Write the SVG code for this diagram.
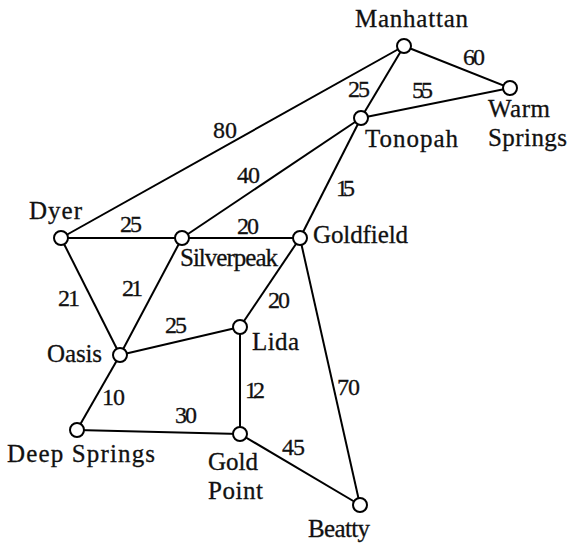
<svg xmlns="http://www.w3.org/2000/svg" width="568" height="545" viewBox="0 0 568 545" font-family="Liberation Serif, Times New Roman, serif">
<style>
.e{stroke:#000;stroke-width:2;fill:none}
.n{fill:#fff;stroke:#000;stroke-width:2}
text{font-size:25px;fill:#111;stroke:#111;stroke-width:0.3}
.w{font-size:24px}
</style>
<rect width="568" height="545" fill="#fff"/>
<g id="connectors">
<line class="e" x1="61" y1="238" x2="404" y2="46"/>
<line class="e" x1="404" y1="46" x2="361" y2="118"/>
<line class="e" x1="404" y1="46" x2="510" y2="88"/>
<line class="e" x1="361" y1="118" x2="510" y2="88"/>
<line class="e" x1="361" y1="118" x2="182" y2="238"/>
<line class="e" x1="361" y1="118" x2="300" y2="238"/>
<line class="e" x1="61" y1="238" x2="300" y2="238"/>
<line class="e" x1="61" y1="238" x2="120" y2="355"/>
<line class="e" x1="182" y1="238" x2="120" y2="355"/>
<line class="e" x1="300" y1="238" x2="240" y2="327"/>
<line class="e" x1="300" y1="238" x2="360" y2="505"/>
<line class="e" x1="120" y1="355" x2="240" y2="327"/>
<line class="e" x1="120" y1="355" x2="77" y2="430"/>
<line class="e" x1="240" y1="327" x2="240" y2="434"/>
<line class="e" x1="77" y1="430" x2="240" y2="434"/>
<line class="e" x1="240" y1="434" x2="360" y2="505"/>
<text class="w" x="213" y="138" textLength="24">80</text>
<text class="w" x="348" y="97" textLength="22">25</text>
<text class="w" x="463" y="65" textLength="22">60</text>
<text class="w" x="412" y="98" textLength="21">55</text>
<text class="w" x="237" y="183" textLength="23">40</text>
<text class="w" x="336" y="196" textLength="19">15</text>
<text class="w" x="120" y="232" textLength="22">25</text>
<text class="w" x="237" y="234" textLength="22">20</text>
<text class="w" x="58" y="306" textLength="22">21</text>
<text class="w" x="122" y="296" textLength="21">21</text>
<text class="w" x="268" y="308" textLength="22">20</text>
<text class="w" x="165" y="333" textLength="22">25</text>
<text class="w" x="102" y="405" textLength="23">10</text>
<text class="w" x="175" y="423" textLength="22">30</text>
<text class="w" x="245" y="398" textLength="20">12</text>
<text class="w" x="282" y="455" textLength="23">45</text>
<text class="w" x="337" y="395" textLength="23">70</text>
</g>
<g id="manhattan"><circle class="n" cx="404" cy="46" r="7"/><text x="355" y="27" textLength="113">Manhattan</text></g>
<g id="warm-springs"><circle class="n" cx="510" cy="88" r="7"/><text x="488" y="117" textLength="62">Warm</text><text x="488" y="146" textLength="79">Springs</text></g>
<g id="tonopah"><circle class="n" cx="361" cy="118" r="7"/><text x="365" y="147" textLength="93">Tonopah</text></g>
<g id="dyer"><circle class="n" cx="61" cy="238" r="7"/><text x="29" y="219" textLength="53">Dyer</text></g>
<g id="silverpeak"><circle class="n" cx="182" cy="238" r="7"/><text x="180" y="266" textLength="98">Silverpeak</text></g>
<g id="goldfield"><circle class="n" cx="300" cy="238" r="7"/><text x="313" y="243" textLength="95">Goldfield</text></g>
<g id="lida"><circle class="n" cx="240" cy="327" r="7"/><text x="252" y="350" textLength="47">Lida</text></g>
<g id="oasis"><circle class="n" cx="120" cy="355" r="7"/><text x="47" y="362" textLength="55">Oasis</text></g>
<g id="deep-springs"><circle class="n" cx="77" cy="430" r="7"/><text x="7" y="462" textLength="148">Deep Springs</text></g>
<g id="gold-point"><circle class="n" cx="240" cy="434" r="7"/><text x="208" y="470" textLength="50">Gold</text><text x="208" y="499" textLength="55">Point</text></g>
<g id="beatty"><circle class="n" cx="360" cy="505" r="7"/><text x="308" y="537" textLength="62">Beatty</text></g>
</svg>
